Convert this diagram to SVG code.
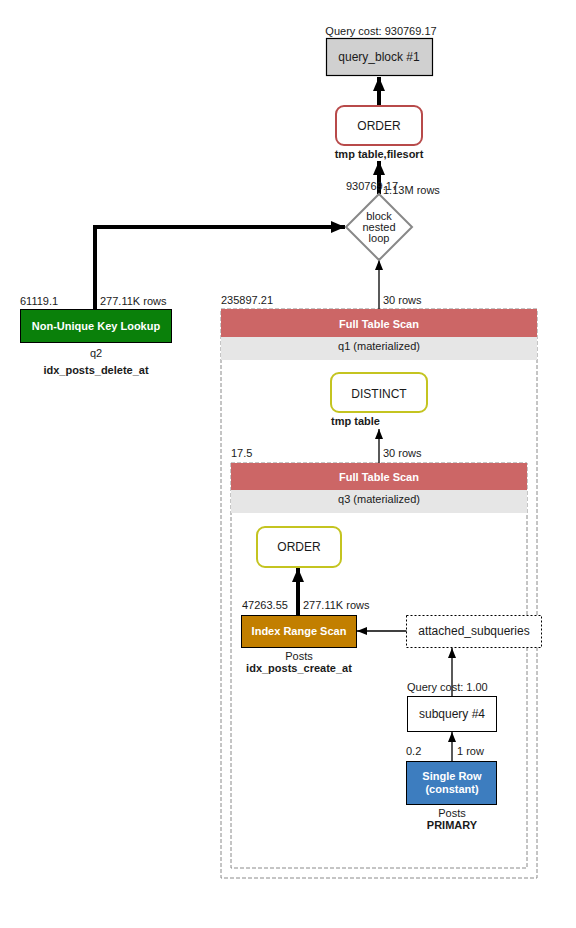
<svg xmlns="http://www.w3.org/2000/svg" width="576" height="928" viewBox="0 0 576 928">
<style>
text{font-family:"Liberation Sans",Arial,sans-serif;fill:#1a1a1a;font-size:11px}
.c{text-anchor:middle}
.b{font-weight:bold}
.w{fill:#ffffff;font-weight:bold;text-anchor:middle}
.l12{font-size:12px}
.thick{stroke:#000;stroke-width:4;fill:none}
.thin{stroke:#000;stroke-width:1.3;fill:none}
.dash{fill:none;stroke:#8a8a8a;stroke-width:1;stroke-dasharray:4,2}
.hdr{fill:#cc6666}
.band{fill:#e6e6e6}
.yel{fill:#fff;stroke:#c4c420;stroke-width:2}
</style>
<defs>
<marker id="ah" markerUnits="userSpaceOnUse" markerWidth="14" markerHeight="12" viewBox="0 0 14 12" refX="14" refY="6" orient="auto">
<path d="M0,0 L14,6 L0,12 Z" fill="#000"/>
</marker>
<marker id="ahs" markerUnits="userSpaceOnUse" markerWidth="10" markerHeight="8" viewBox="0 0 10 8" refX="10" refY="4" orient="auto">
<path d="M0,0 L10,4 L0,8 Z" fill="#000"/>
</marker>
</defs>

<g id="q1-box">
<rect x="221" y="309" width="316" height="569" class="dash"/>
<rect x="221" y="309" width="316" height="28" class="hdr"/>
<rect x="221" y="337" width="316" height="23" class="band"/>
<text x="379" y="328" class="w">Full Table Scan</text>
<text x="379" y="350" class="c">q1 (materialized)</text>
<text x="221" y="304">235897.21</text>
<text x="383" y="304">30 rows</text>
</g>

<g id="q3-box">
<rect x="231" y="463" width="296" height="405" class="dash"/>
<rect x="231" y="463" width="296" height="27" class="hdr"/>
<rect x="231" y="490" width="296" height="23" class="band"/>
<text x="379" y="481" class="w">Full Table Scan</text>
<text x="379" y="503" class="c">q3 (materialized)</text>
<text x="231" y="457">17.5</text>
<text x="383" y="457">30 rows</text>
</g>

<g id="connectors">
<line x1="379" y1="105" x2="379" y2="77" class="thick" marker-end="url(#ah)"/>
<line x1="379" y1="194" x2="379" y2="161" class="thick" marker-end="url(#ah)"/>
<path d="M95,309 V227 H345" class="thick" marker-end="url(#ah)"/>
<line x1="379" y1="309" x2="379" y2="260" class="thin" marker-end="url(#ahs)"/>
<line x1="379" y1="463" x2="379" y2="429" class="thin" marker-end="url(#ahs)"/>
<line x1="298" y1="615" x2="298" y2="568" class="thick" marker-end="url(#ah)"/>
<line x1="407" y1="631" x2="357" y2="631" class="thin" marker-end="url(#ahs)"/>
<line x1="452" y1="696" x2="452" y2="648" class="thin" marker-end="url(#ahs)"/>
<line x1="452" y1="761" x2="452" y2="732" class="thin" marker-end="url(#ahs)"/>
</g>

<g id="query-block-1">
<text x="381" y="35" class="c">Query cost: 930769.17</text>
<rect x="326.5" y="38.5" width="106" height="37" fill="#d0d0d0" stroke="#000" stroke-width="1.2"/>
<text x="379" y="61" class="c l12">query_block #1</text>
</g>

<g id="order-top">
<rect x="336" y="106" width="86" height="39" rx="8" fill="#fff" stroke="#b84a4a" stroke-width="2"/>
<text x="379" y="130" class="c l12">ORDER</text>
<text x="379" y="158" class="c b">tmp table,filesort</text>
</g>

<g id="nested-loop">
<polygon points="379,194 412,227 379,260 346,227" fill="#fff" stroke="#888" stroke-width="2"/>
<text x="379" y="220" class="c">block</text>
<text x="379" y="231" class="c">nested</text>
<text x="379" y="242" class="c">loop</text>
<text x="346" y="190">930769.17</text>
<text x="383" y="194">1.13M rows</text>
</g>

<g id="non-unique-key-lookup">
<text x="20" y="305">61119.1</text>
<text x="100" y="305">277.11K rows</text>
<rect x="20.5" y="309.5" width="151" height="33" fill="#0a800a" stroke="#000" stroke-width="1"/>
<text x="96" y="330" class="w">Non-Unique Key Lookup</text>
<text x="96" y="357" class="c">q2</text>
<text x="96" y="374" class="c b">idx_posts_delete_at</text>
</g>

<g id="distinct">
<rect x="331" y="373" width="96" height="39" rx="8" class="yel"/>
<text x="379" y="398" class="c l12">DISTINCT</text>
<text x="331" y="425" class="b">tmp table</text>
</g>

<g id="order-inner">
<rect x="257" y="527" width="84" height="40" rx="8" class="yel"/>
<text x="299" y="551" class="c l12">ORDER</text>
</g>

<g id="index-range-scan">
<text x="242" y="609">47263.55</text>
<text x="303" y="609">277.11K rows</text>
<rect x="241.5" y="615.5" width="115" height="32" fill="#c27f00" stroke="#000" stroke-width="1"/>
<text x="299" y="635" class="w">Index Range Scan</text>
<text x="299" y="660" class="c">Posts</text>
<text x="299" y="672" class="c b">idx_posts_create_at</text>
</g>

<g id="attached-subqueries">
<rect x="406.5" y="615.5" width="135" height="32" fill="#fff" stroke="#000" stroke-width="1" stroke-dasharray="2,2"/>
<text x="474" y="635" class="c l12">attached_subqueries</text>
</g>

<g id="subquery-4">
<text x="407" y="691">Query cost: 1.00</text>
<rect x="407.5" y="696.5" width="89" height="35" fill="#fff" stroke="#000" stroke-width="1"/>
<text x="452" y="718" class="c l12">subquery #4</text>
</g>

<g id="single-row">
<text x="406" y="755">0.2</text>
<text x="457" y="755">1 row</text>
<rect x="406.5" y="761.5" width="90" height="43" fill="#3d7dbf" stroke="#000" stroke-width="1"/>
<text x="452" y="780" class="w">Single Row</text>
<text x="452" y="793" class="w">(constant)</text>
<text x="452" y="817" class="c">Posts</text>
<text x="452" y="829" class="c b">PRIMARY</text>
</g>
</svg>
